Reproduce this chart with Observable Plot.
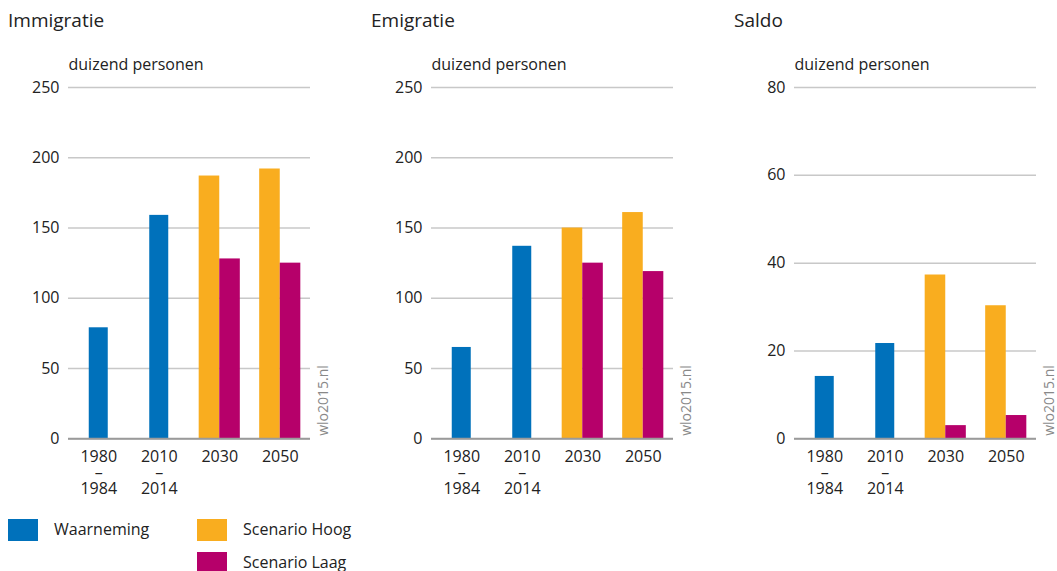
<!DOCTYPE html>
<html><head><meta charset="utf-8">
<script src="https://cdn.jsdelivr.net/npm/d3@7"></script>
<script src="https://cdn.jsdelivr.net/npm/@observablehq/plot@0.6"></script>
<style>
body{margin:0;background:#fff;font-family:"Open Sans",sans-serif;color:#222}
#root{position:relative;width:1057px;height:571px;overflow:hidden}
.title{position:absolute;top:8px;font-size:19px;line-height:24px;white-space:nowrap}
.panel{position:absolute;top:40px;width:363px;height:460px}
.panel svg{max-width:none}
.sw{position:absolute;width:30px;height:22px}
.lt{position:absolute;font-size:16px;line-height:16px;white-space:nowrap}
</style></head><body><div id="root"></div>
<script>
// ---- data ----
const periods = ["1980–1984", "2010–2014", "2030", "2050"];
const obsPeriods = ["1980–1984", "2010–2014"];
const scenPeriods = ["2030", "2050"];
const panelTitles = ["Immigratie", "Emigratie", "Saldo"];
const seriesNames = ["Waarneming", "Scenario Hoog", "Scenario Laag"];
const seriesColors = ["#0071bb", "#f9ad1f", "#b6006a"];

const immWaarneming = [79, 159];
const immHoog = [187, 192];
const immLaag = [128, 125];

const emiWaarneming = [65, 137];
const emiHoog = [150, 161];
const emiLaag = [125, 119];

const salWaarneming = [14.2, 21.7];
const salHoog = [37.3, 30.3];
const salLaag = [3.0, 5.3];

const ticksPersonen = [0, 50, 100, 150, 200, 250];
const ticksSaldo = [0, 20, 40, 60, 80];
const yLabel = "duizend personen";
const source = "wlo2015.nl";

// ---- layout ----
const root = document.getElementById("root");
const W = 363, H = 460, mL = 60, mR = 61, mT = 47, mB = 61.7;
const padIn = 0.32, padOut = 0.16;
const step = (W - mL - mR) / (periods.length - padIn + 2 * padOut);
const bw = step * (1 - padIn);

function makePanel(i, obs, hoog, laag, ticks) {
  const left = 8 + i * W;
  const t = document.createElement("div");
  t.className = "title";
  t.style.left = left + "px";
  t.textContent = panelTitles[i];
  root.appendChild(t);

  const obsRows = obsPeriods.map((p, j) => ({period: p, value: obs[j]}));
  const hoogRows = scenPeriods.map((p, j) => ({period: p, value: hoog[j]}));
  const laagRows = scenPeriods.map((p, j) => ({period: p, value: laag[j]}));

  const chart = Plot.plot({
    width: W, height: H,
    marginLeft: mL, marginRight: mR, marginTop: mT, marginBottom: mB,
    style: {fontFamily: '"Open Sans", sans-serif', fontSize: "16px", color: "#222", background: "transparent", overflow: "visible", maxWidth: "none"},
    x: {type: "band", domain: periods, paddingInner: padIn, paddingOuter: padOut, round: false, label: null},
    y: {domain: [0, ticks[ticks.length - 1]], label: null},
    marks: [
      Plot.gridY(ticks, {stroke: "#c8c8c8", strokeOpacity: 1, strokeWidth: 1.5}),
      Plot.barY(obsRows, {x: "period", y: "value", fill: seriesColors[0], insetLeft: (bw - 19) / 2, insetRight: (bw - 19) / 2}),
      Plot.barY(hoogRows, {x: "period", y: "value", fill: seriesColors[1], insetRight: bw / 2}),
      Plot.barY(laagRows, {x: "period", y: "value", fill: seriesColors[2], insetLeft: bw / 2}),
      Plot.ruleY([0], {stroke: "#9a9a9a", strokeWidth: 2}),
      Plot.axisY(ticks, {tickSize: 0, tickPadding: 9, label: null, fontSize: 16, fill: "#222"}),
      Plot.axisX({tickSize: 0, tickPadding: 12, label: null, fontSize: 16, lineHeight: 1, fill: "#222",
        tickFormat: d => d.replace("–", "\n–\n")}),
      Plot.text([yLabel], {frameAnchor: "top-left", lineAnchor: "middle", dy: -23, textAnchor: "start", fontSize: 16, fill: "#222"}),
      Plot.text([source], {frameAnchor: "bottom-right", lineAnchor: "middle", rotate: -90, textAnchor: "start", dx: 13, dy: -3, fill: "#888", fontSize: 14})
    ]
  });
  const wrap = document.createElement("div");
  wrap.className = "panel";
  wrap.style.left = left + "px";
  wrap.appendChild(chart);
  root.appendChild(wrap);
}

makePanel(0, immWaarneming, immHoog, immLaag, ticksPersonen);
makePanel(1, emiWaarneming, emiHoog, emiLaag, ticksPersonen);
makePanel(2, salWaarneming, salHoog, salLaag, ticksSaldo);

// ---- legend ----
const legendPos = [[8, 519], [197, 519], [197, 552]];
seriesNames.forEach((name, k) => {
  const [x, y] = legendPos[k];
  const s = document.createElement("div");
  s.className = "sw";
  s.style.left = x + "px"; s.style.top = y + "px";
  s.style.background = seriesColors[k];
  root.appendChild(s);
  const l = document.createElement("div");
  l.className = "lt";
  l.style.left = (x + 46) + "px"; l.style.top = (y + 2) + "px";
  l.textContent = name;
  root.appendChild(l);
});
</script></body></html>
